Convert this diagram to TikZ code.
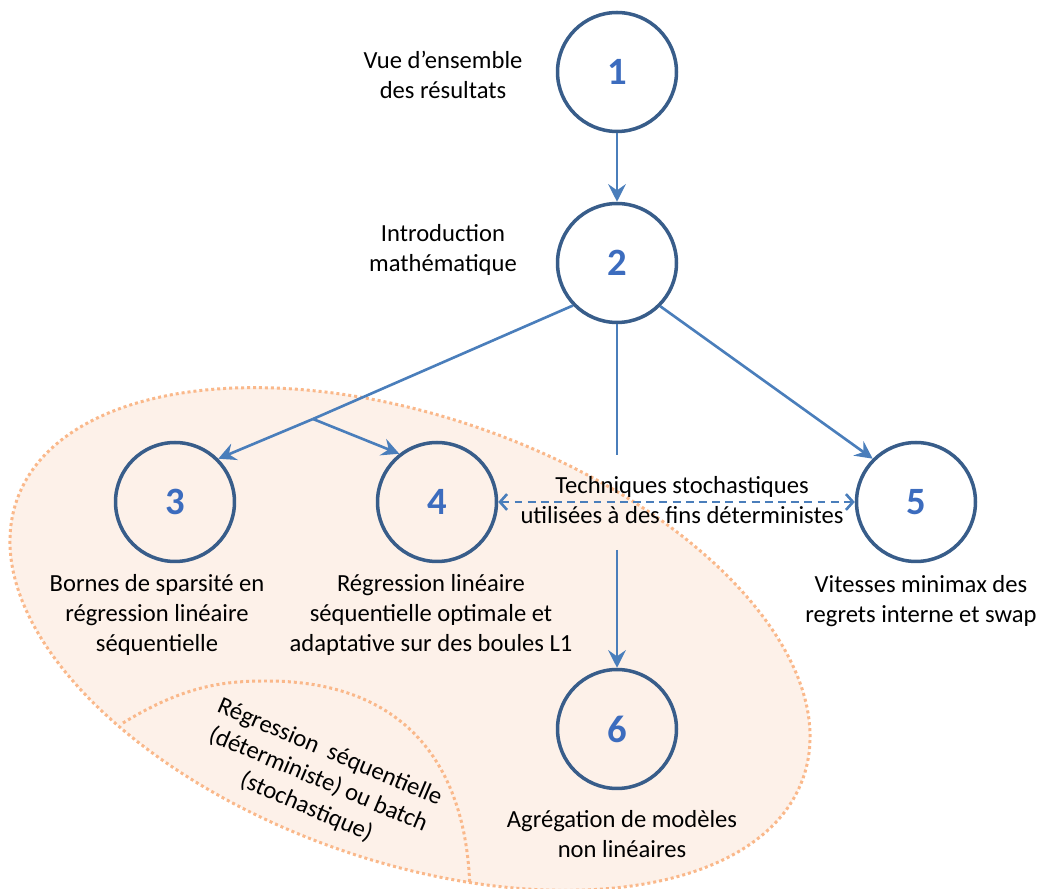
\documentclass[tikz,border=0pt]{standalone}
\usepackage{fontspec}
\setmainfont{Carlito}
\usetikzlibrary{arrows.meta}
\definecolor{linkblue}{RGB}{74,126,187}
\definecolor{ringblue}{RGB}{56,93,138}
\definecolor{digitblue}{RGB}{60,108,190}
\definecolor{zonefill}{RGB}{253,241,233}
\definecolor{zoneline}{RGB}{250,184,138}
\begin{document}
\begin{tikzpicture}[x=0.02cm, y=0.02cm,
    chapter/.style={circle, draw=ringblue, line width=2pt, minimum size=2.38cm, inner sep=0pt,
      font=\fontsize{22}{26}\selectfont\bfseries, text=digitblue},
    caption/.style={align=center, font=\fontsize{14}{17}\selectfont},
    plainlink/.style={draw=linkblue, line width=1.5pt},
    link/.style={plainlink, -{Stealth[length=10pt,width=10pt,inset=3.5pt]}},
    dashlink/.style={draw=linkblue, line width=1.5pt, dash pattern=on 4.5pt off 3pt,
      {Straight Barb[length=4pt,width=9pt]}-{Straight Barb[length=4pt,width=9pt]}},
    zone/.style={draw=zoneline, line width=1.7pt, dash pattern=on 1.7pt off 1.7pt}]
\useasboundingbox (0,0) rectangle (1042,889);

% Drawing zone of the sequential regression chapters
\draw [zone, fill=zonefill] (410,250) ellipse [x radius=417, y radius=222, rotate=-19.5];%
\begin{scope}
\clip (410,250) ellipse [x radius=417, y radius=222, rotate=-19.5];%
\draw [zone] (123,166) .. controls (185,204) and (225,208) .. (267,208) .. controls (400,208) and (470,129) .. (470,-10);%
\end{scope}
\node (zonetext) [caption, rotate=-23] at (318,109) {Régression~~séquentielle\\(déterministe) ou batch\\(stochastique)};%

% Marking chapters by circles
\node (c1) [chapter] at (617,817) {1};%
\node (c2) [chapter] at (617,626) {2};%
\node (c3) [chapter] at (175,387) {3};%
\node (c4) [chapter] at (437,387) {4};%
\node (c5) [chapter] at (916,387) {5};%
\node (c6) [chapter] at (617,160) {6};%

% Writing chapter titles
\node (t1) [caption] at (443,814) {Vue d’ensemble\\des résultats};%
\node (t2) [caption] at (443,639) {Introduction\\mathématique};%
\node (t3) [caption] at (157,274) {Bornes de sparsité en\\régression linéaire\\séquentielle};%
\node (t4) [caption] at (431,274) {Régression linéaire\\séquentielle optimale et\\adaptative sur des boules L1};%
\node (t5) [caption] at (921,288) {Vitesses minimax des\\regrets interne et swap};%
\node (t6) [caption] at (622,55) {Agrégation de modèles\\non linéaires};%
\node (tlink) [caption] at (682,389) {Techniques stochastiques\\utilisées à des fins déterministes};%

% Drawing links between chapters
\coordinate (fork) at (313,470);%
\coordinate (gaptop) at (617,434);%
\coordinate (gapbot) at (617,339);%
\draw [link] (c1) -- (c2);%
\draw [plainlink] (c2.224) -- (fork);%
\draw [link] (fork) -- (c3.45);%
\draw [link] (fork) -- (c4.128);%
\draw [link] (c2.315) -- (c5.135);%
\draw [plainlink] (c2) -- (gaptop);%
\draw [link] (gapbot) -- (c6);%
\draw [dashlink] (c4) -- (c5);%
\end{tikzpicture}
\end{document}
